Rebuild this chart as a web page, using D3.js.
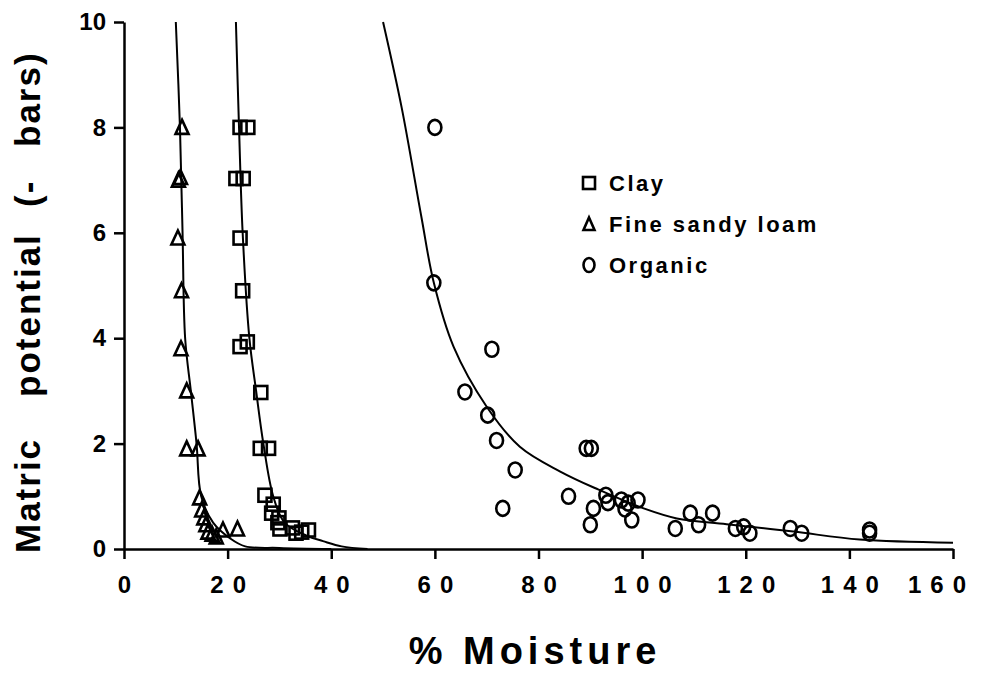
<!doctype html>
<html>
<head>
<meta charset="utf-8">
<title>Matric potential vs % Moisture</title>
<script src="https://cdn.jsdelivr.net/npm/d3@7"></script>
<style>
  body { margin: 0; background: #fff; }
  svg { display: block; font-family: "Liberation Sans", Arial, sans-serif; font-weight: bold; }
  .axis path, .axis line { stroke: #000; stroke-width: 2.5; fill: none; }
  .axis text { font-size: 24px; font-weight: bold; fill: #000; font-family: "Liberation Sans", Arial, sans-serif; }
  .fit { fill: none; stroke: #000; stroke-width: 2; }
  .mark { fill: none; stroke: #000; stroke-width: 2.6; }
</style>
</head>
<body>
<div id="chart"></div>
<script>
// ---- data ----
var xTicks = [0, 20, 40, 60, 80, 100, 120, 140, 160];
var yTicks = [0, 2, 4, 6, 8, 10];

// Clay (squares)
var clayX = [22.4, 23.9, 21.6, 23.0, 22.4, 22.9, 22.4, 23.8, 26.4, 26.3, 27.9, 27.2, 28.8, 28.5, 29.9, 30.1, 32.5, 34.3, 35.6, 29.7, 33.2];
var clayY = [8.0, 8.0, 7.03, 7.03, 5.9, 4.9, 3.84, 3.93, 2.97, 1.91, 1.91, 1.02, 0.85, 0.68, 0.59, 0.38, 0.4, 0.32, 0.36, 0.5, 0.3];

// Fine sandy loam (triangles)
var loamX = [11.2, 10.5, 10.9, 10.4, 11.1, 11.0, 12.1, 12.1, 14.3, 14.6, 15.0, 15.4, 15.8, 16.2, 17.8, 19.1, 21.9, 17.0];
var loamY = [8.0, 7.0, 7.05, 5.9, 4.9, 3.8, 3.0, 1.9, 1.9, 0.97, 0.74, 0.59, 0.46, 0.32, 0.23, 0.36, 0.38, 0.28];

// Organic (circles)
var orgX = [60.0, 59.8, 71.0, 65.8, 70.2, 71.9, 75.5, 73.1, 85.8, 89.2, 90.2, 90.6, 90.0, 93.0, 93.4, 96.0, 97.3, 99.2, 98.0, 96.7, 106.4, 109.3, 110.9, 113.6, 118.0, 119.6, 120.8, 128.6, 130.8, 143.9, 143.9];
var orgY = [8.0, 5.05, 3.79, 2.98, 2.54, 2.06, 1.5, 0.77, 1.0, 1.91, 1.91, 0.77, 0.46, 1.02, 0.88, 0.93, 0.87, 0.93, 0.55, 0.76, 0.39, 0.68, 0.46, 0.68, 0.39, 0.42, 0.3, 0.39, 0.3, 0.3, 0.36];

// fitted curves
var loamFitX = [10.0, 10.8, 11.3, 11.8, 12.9, 14.0, 14.9, 17.2, 20.5, 23.4, 30, 40];
var loamFitY = [10, 8, 6, 4, 3, 2, 1, 0.5, 0.2, 0.05, 0.02, 0];
var clayFitX = [21.6, 22.2, 22.9, 24.2, 25.5, 26.9, 28.8, 31.0, 35.3, 38.4, 42, 47];
var clayFitY = [10, 8, 6, 4, 3, 2, 1, 0.5, 0.25, 0.15, 0.05, 0];
var orgFitX = [50.0, 53.6, 57.4, 59.8, 63.6, 70.0, 76.4, 84.2, 91.5, 100.3, 106.7, 116.3, 129.2, 142, 160];
var orgFitY = [10, 8.37, 6.3, 5.05, 3.84, 2.7, 1.94, 1.47, 1.13, 0.77, 0.58, 0.47, 0.33, 0.18, 0.12];

var legendNames = ["Clay", "Fine sandy loam", "Organic"];

function zip(xs, ys) { return xs.map(function(v, i) { return [v, ys[i]]; }); }

// ---- layout ----
var margin = {top: 22, right: 28, bottom: 124, left: 124},
    width = 981 - margin.left - margin.right,
    height = 673 - margin.top - margin.bottom;

var svg = d3.select("#chart")
  .append("svg")
    .attr("width", 981)
    .attr("height", 673)
  .append("g")
    .attr("transform", "translate(" + margin.left + "," + margin.top + ")");

var x = d3.scaleLinear().domain([0, 160]).range([0, width]);
var y = d3.scaleLinear().domain([0, 10]).range([height, 0]);

// x axis (digits spaced out like the original)
var xLs = 9;
var xAxis = svg.append("g")
  .attr("class", "axis")
  .attr("transform", "translate(0," + height + ")")
  .call(d3.axisBottom(x).tickValues(xTicks).tickSize(10).tickSizeOuter(0).tickPadding(17));
xAxis.selectAll("text")
  .style("letter-spacing", xLs + "px")
  .attr("dx", xLs / 2);
// last label sits a little left of its tick so it stays on the page
xAxis.selectAll(".tick").filter(function(d) { return d === 160; }).select("text")
  .attr("dx", -12);

// y axis
svg.append("g")
  .attr("class", "axis")
  .call(d3.axisLeft(y).tickValues(yTicks).tickSize(10).tickSizeOuter(0).tickPadding(8));

// fitted curves
var line = d3.line()
  .x(function(d) { return x(d[0]); })
  .y(function(d) { return y(d[1]); })
  .curve(d3.curveCatmullRom.alpha(0.5));

[zip(loamFitX, loamFitY), zip(clayFitX, clayFitY), zip(orgFitX, orgFitY)].forEach(function(pts) {
  svg.append("path").attr("class", "fit").attr("d", line(pts));
});

// markers
var tri = "M0,-7.5L6.5,6.5L-6.5,6.5Z";

svg.append("g").selectAll("rect")
  .data(zip(clayX, clayY))
  .enter().append("rect")
    .attr("class", "mark")
    .attr("x", function(d) { return x(d[0]) - 6.5; })
    .attr("y", function(d) { return y(d[1]) - 6.5; })
    .attr("width", 13)
    .attr("height", 13);

svg.append("g").selectAll("path")
  .data(zip(loamX, loamY))
  .enter().append("path")
    .attr("class", "mark")
    .attr("d", tri)
    .attr("transform", function(d) { return "translate(" + x(d[0]) + "," + y(d[1]) + ")"; });

svg.append("g").selectAll("ellipse")
  .data(zip(orgX, orgY))
  .enter().append("ellipse")
    .attr("class", "mark")
    .attr("cx", function(d) { return x(d[0]); })
    .attr("cy", function(d) { return y(d[1]); })
    .attr("rx", 6.5)
    .attr("ry", 7.5);

// legend
var lg = svg.append("g").attr("transform", "translate(" + (589 - margin.left) + "," + (183 - margin.top) + ")");
legendNames.forEach(function(name, i) {
  var row = lg.append("g").attr("transform", "translate(0," + (i * 41) + ")");
  if (i === 0) row.append("rect").attr("class", "mark").attr("x", -6).attr("y", -6).attr("width", 12).attr("height", 12);
  if (i === 1) row.append("path").attr("class", "mark").attr("d", "M0,-6.5L5.5,6L-5.5,6Z");
  if (i === 2) row.append("ellipse").attr("class", "mark").attr("rx", 5.5).attr("ry", 7);
  row.append("text")
    .attr("x", 20)
    .attr("dy", "0.36em")
    .style("font-size", "22px")
    .style("letter-spacing", "2.5px")
    .text(name);
});

// axis titles
svg.append("text")
  .attr("x", 535 - margin.left)
  .attr("y", 664 - margin.top)
  .style("text-anchor", "middle")
  .style("font-size", "38px")
  .style("letter-spacing", "5px")
  .text("% Moisture");

var yTitle = svg.append("text")
  .attr("transform", "rotate(-90)")
  .attr("y", 40 - margin.left)
  .style("font-size", "35px")
  .style("letter-spacing", "2px");
[["Matric", 553], ["potential", 397], ["(-", 207], ["bars)", 147]].forEach(function(w) {
  yTitle.append("tspan").attr("x", -(w[1] - margin.top)).text(w[0]);
});
</script>
</body>
</html>
